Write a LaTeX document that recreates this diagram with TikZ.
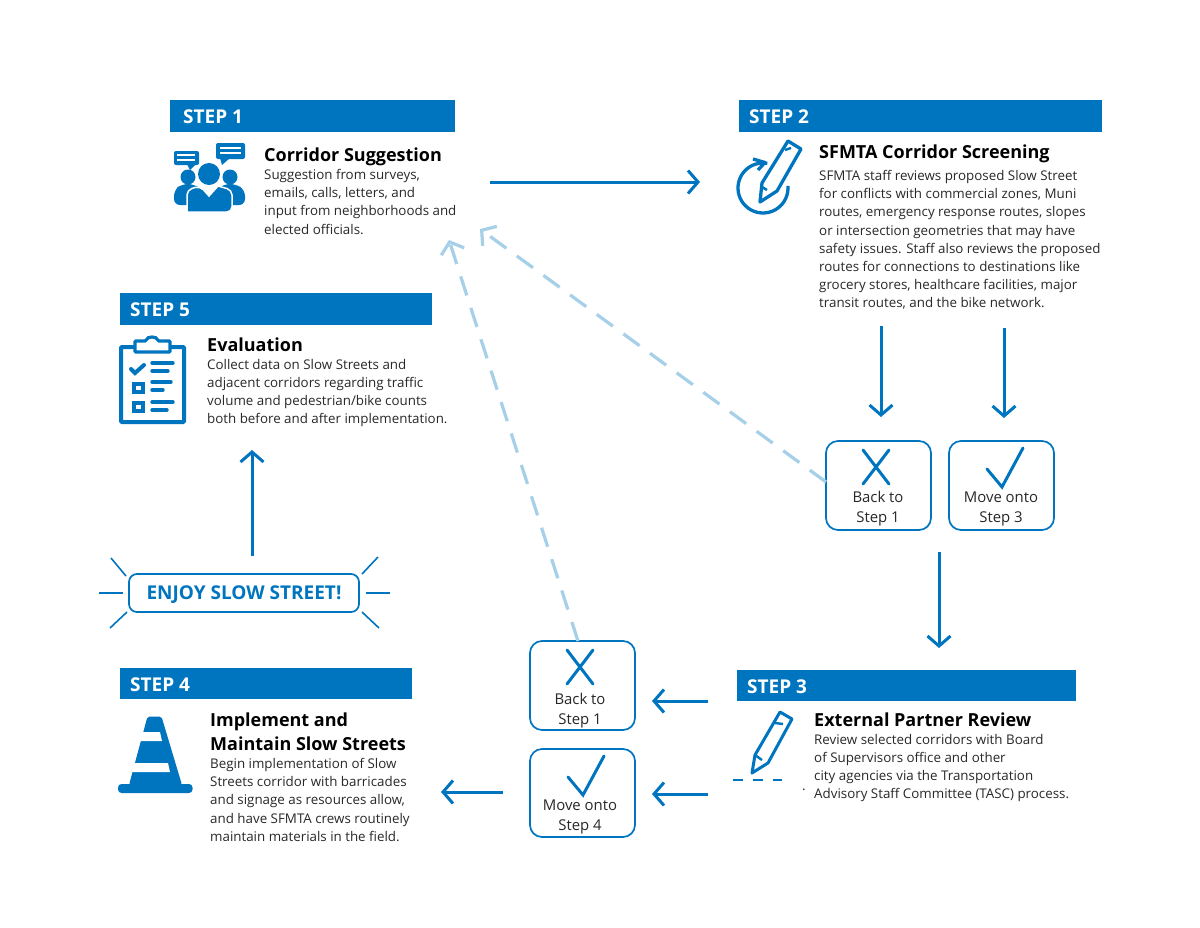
\documentclass[tikz,border=0pt]{standalone}
\usepackage{fontspec}
\setmainfont{Open Sans}
\usetikzlibrary{arrows.meta}
\definecolor{sfblue}{RGB}{0,117,191}
\definecolor{sflight}{RGB}{166,207,232}
\definecolor{sftext}{RGB}{40,40,40}
\tikzset{
  barfill/.style={fill=sfblue,draw=none},
  steplabel/.style={anchor=west,inner sep=0,text=white,font=\fontsize{19}{22}\selectfont\bfseries},
  headtext/.style={anchor=base west,inner sep=0,text=black,align=left,font=\fontsize{18}{24}\selectfont\bfseries},
  bodytext/.style={anchor=north west,inner sep=0,text=sftext,align=left,font=\fontsize{13.35}{18.2}\selectfont},
  boxnode/.style={draw=sfblue,line width=1.7pt,rounded corners=12pt,fill=white,minimum width=105pt,minimum height=89pt,inner sep=0},
  boxlabel/.style={inner sep=0,text=sftext,align=center,font=\fontsize{14.9}{20}\selectfont},
  flowline/.style={draw=sfblue,line width=3pt,-{Straight Barb[length=10pt,width=23pt]}},
  backline/.style={draw=sflight,line width=3.2pt,dash pattern=on 20pt off 13pt,-{Straight Barb[length=10pt,width=24pt]}},
  tickline/.style={draw=sfblue,line width=3pt,line cap=round},
  iconline/.style={draw=sfblue,line width=3.3pt,line join=round},
  rayline/.style={draw=sfblue,line width=1.6pt},
}
\begin{document}
\begin{tikzpicture}[x=1pt,y=-1pt]
\useasboundingbox (0,0) rectangle (1200,927);
\fill[white] (0,0) rectangle (1200,927);
% step bars
\fill[barfill] (170,100) rectangle (455,132);
\fill[barfill] (739,100) rectangle (1102,132);
\fill[barfill] (120,293) rectangle (432,325);
\fill[barfill] (120,668) rectangle (412,699);
\fill[barfill] (737,670) rectangle (1076,701);
\node[steplabel] (s1) at (183,117) {STEP 1};
\node[steplabel] (s2) at (749,117) {STEP 2};
\node[steplabel] (s5) at (130,310) {STEP 5};
\node[steplabel] (s4) at (130,685) {STEP 4};
\node[steplabel] (s3) at (747,687) {STEP 3};
% headings
\node[headtext] (h1) at (264,161) {Corridor Suggestion};
\node[headtext] (h2) at (819,158) {SFMTA Corridor Screening};
\node[headtext] (h5) at (207,351) {Evaluation};
\node[headtext] (h4) at (210,726) {Implement and};
\node[headtext] (h4b) at (210,750) {Maintain Slow Streets};
\node[headtext] (h3) at (814,726) {External Partner Review};
% body
\node[bodytext] (b1) at (264,169) {Suggestion from surveys,\\emails, calls, letters, and\\input from neighborhoods and\\elected officials.};
\node[bodytext] (b2) at (819,170) {SFMTA staff reviews proposed Slow Street\\for conflicts with commercial zones, Muni\\routes, emergency response routes, slopes\\or intersection geometries that may have\\safety issues. Staff also reviews the proposed\\routes for connections to destinations like\\grocery stores, healthcare facilities, major\\transit routes, and the bike network.};
\node[bodytext] (b5) at (207,359) {Collect data on Slow Streets and\\adjacent corridors regarding traffic\\volume and pedestrian/bike counts\\both before and after implementation.};
\node[bodytext] (b4) at (210,758) {Begin implementation of Slow\\Streets corridor with barricades\\and signage as resources allow,\\and have SFMTA crews routinely\\maintain materials in the field.};
\node[bodytext] (b3) at (814,734) {Review selected corridors with Board\\of Supervisors office and other\\city agencies via the Transportation\\Advisory Staff Committee (TASC) process.};
\node[bodytext] (dot) at (802,789) {.};
% decision boxes
\node[boxnode] (x1) at (878.5,485.5) {};
\node[boxnode] (c1) at (1001.5,485.5) {};
\node[boxnode] (x2) at (582.5,685.5) {};
\node[boxnode,minimum height=88pt] (c2) at (582.5,793) {};
\node[boxlabel] (x1t) at (878,509) {Back to\\Step 1};
\node[boxlabel] (c1t) at (1001,509) {Move onto\\Step 3};
\node[boxlabel] (x2t) at (580,711) {Back to\\Step 1};
\node[boxlabel] (c2t) at (580,817) {Move onto\\Step 4};
\foreach \dx/\dy in {0/0,-296/200}{
  \draw[tickline] (863+\dx,450+\dy) -- (889+\dx,484+\dy);
  \draw[tickline] (889+\dx,450+\dy) -- (863+\dx,484+\dy);
}
\foreach \dx/\dy in {0/0,-419/308}{
  \draw[tickline] (987+\dx,469+\dy) -- (1002+\dx,487+\dy) -- (1023+\dx,448+\dy);
}
% enjoy
\node[draw=sfblue,line width=1.7pt,rounded corners=8pt,minimum width=230pt,minimum height=38pt,inner sep=0,text=sfblue,text height=12pt,text depth=0pt,font=\fontsize{19}{22}\selectfont\bfseries] (enjoy) at (244,593) {ENJOY SLOW STREET!};
\draw[rayline] (111,558) -- (126,576);
\draw[rayline] (99,593) -- (123,593);
\draw[rayline] (110,628) -- (127,612);
\draw[rayline] (378,557) -- (362,574);
\draw[rayline] (366,593) -- (390,593);
\draw[rayline] (362,612) -- (379,628);
% connector ends
\coordinate (a1s) at (490,182); \coordinate (a1e) at (700,182);
\coordinate (a2s) at (881,326); \coordinate (a2e) at (881,417);
\coordinate (a3s) at (1004,328); \coordinate (a3e) at (1004,418);
\coordinate (a4s) at (939,552); \coordinate (a4e) at (939,648);
\coordinate (a5s) at (708,701); \coordinate (a5e) at (652,701);
\coordinate (a6s) at (708,794); \coordinate (a6e) at (652,794);
\coordinate (a7s) at (503,792); \coordinate (a7e) at (441,792);
\coordinate (a8s) at (252,556); \coordinate (a8e) at (252,450);
\coordinate (d1s) at (826,482); \coordinate (d1e) at (480,229);
\coordinate (d2s) at (578,641); \coordinate (d2e) at (449,240);
\draw[flowline] (a1s) -- (a1e);
\draw[flowline] (a2s) -- (a2e);
\draw[flowline] (a3s) -- (a3e);
\draw[flowline] (a4s) -- (a4e);
\draw[flowline] (a5s) -- (a5e);
\draw[flowline] (a6s) -- (a6e);
\draw[flowline] (a7s) -- (a7e);
\draw[flowline] (a8s) -- (a8e);
\draw[backline] (d1s) -- (d1e);
\draw[backline] (d2s) -- (d2e);
% people icon
\fill[sfblue] (209,174) circle[radius=11];
\fill[sfblue] (188,177) circle[radius=7.5];
\fill[sfblue] (230,177) circle[radius=7.5];
\fill[sfblue,rounded corners=6pt] (174,205) -- (174,190) -- (182,184) -- (194,184) -- (202,190) -- (202,205) -- cycle;
\fill[sfblue,rounded corners=6pt] (216,205) -- (216,190) -- (224,184) -- (236,184) -- (245,190) -- (245,205) -- cycle;
\draw[white,line width=1.5pt,fill=sfblue] (187,212) -- (187,198) [rounded corners=5pt] -- (187,190) -- (200,186) [sharp corners] -- (209,196) -- (218,186) [rounded corners=5pt] -- (232,190) -- (232,212) [sharp corners] -- cycle;
\fill[sfblue,rounded corners=2pt] (174,151) rectangle (199,165);
\fill[sfblue] (187,164) -- (196,164) -- (190,170) -- cycle;
\draw[white,line width=1.2pt] (177,155) -- (195,155) (177,160) -- (195,160);
\fill[sfblue,rounded corners=2pt] (216,143) rectangle (245,159);
\fill[sfblue] (220,158) -- (230,158) -- (222,165) -- cycle;
\draw[white,line width=1.2pt] (220,148) -- (241,148) (220,153) -- (241,153);
% pencil + circular arrow icon
\draw[iconline,samples=40,domain=-5:280,smooth,variable=\t] plot ({763+25*cos(\t)},{188+25*sin(\t)});
\draw[iconline] (753,159) -- (765,162.5) -- (758,170);
\draw[iconline,fill=white] (760,202) -- (762,183) -- (788,141) -- (801,149) -- (777,191) -- cycle;
\draw[iconline,line width=2.5pt] (785,150) -- (791,148);
\draw[iconline,line width=2.5pt] (762,187) -- (767,190);
% clipboard icon
\draw[sfblue,line width=4pt,rounded corners=1pt] (121,347) rectangle (184,422);
\draw[sfblue,line width=3.2pt,fill=white,rounded corners=1pt] (135,352) -- (135,341) -- (146,341) .. controls (147,336) and (157,336) .. (158,341) -- (170,341) -- (170,352) -- cycle;
\draw[sfblue,line width=4pt,line cap=round,line join=miter] (131,369) -- (135,373) -- (144,365);
\foreach \a/\b/\y in {152/173/363,152/168/371,152/171/382,152/163/390,152/173/402,152/167/410}
  \draw[sfblue,line width=3.4pt,line cap=round] (\a,\y) -- (\b,\y);
\draw[sfblue,line width=4.2pt] (134,384) rectangle (143,392);
\draw[sfblue,line width=4.2pt] (134,403) rectangle (143,411);
% cone icon
\fill[sfblue,rounded corners=2pt] (147.5,716.5) -- (161.5,716.5) -- (182,785) -- (129,785) -- cycle;
\fill[sfblue,rounded corners=3.5pt] (118,784) rectangle (192.5,793);
\fill[white] (135,732) -- (160,732) -- (162,741) -- (135,741) -- cycle;
\fill[white] (125,763) -- (168,763) -- (170,772) -- (125,772) -- cycle;
% pencil icon step 3
\draw[iconline,line width=3pt] (752,773) -- (755,755) -- (780,712) -- (792,719) -- (768,763) -- cycle;
\draw[iconline,line width=2.4pt] (755,755) -- (762,760) (775,723) -- (783,724);
\draw[sfblue,line width=1.5pt] (733,780) -- (743,780) (753,780) -- (763,780) (773,780) -- (782,780);
\end{tikzpicture}
\end{document}
